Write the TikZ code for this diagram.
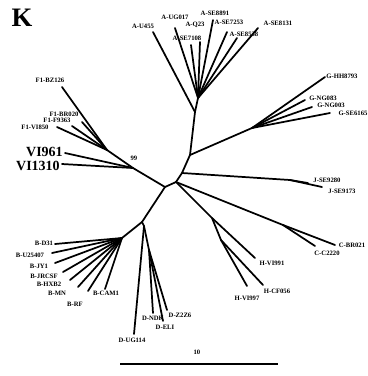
\documentclass[tikz,border=0pt]{standalone}
\usepackage{fontspec}
\setmainfont{Liberation Serif}
\begin{document}
\begin{tikzpicture}[x=0.75pt,y=-0.75pt,
  branch/.style={line width=1.3pt, line cap=round, line join=round},
  lbl/.style={font=\fontsize{5}{5}\selectfont\bfseries, inner sep=0pt},
  biglbl/.style={font=\fontsize{10.5}{10.5}\selectfont\bfseries, inner sep=0pt}]
\useasboundingbox (0,0) rectangle (368,376);

% panel letter
\node[font=\fontsize{20}{20}\selectfont\bfseries, inner sep=0pt] (K) at (22,18) {K};

% internal nodes of the tree
\coordinate (n1) at (165,187);
\coordinate (n2) at (176,182);
\coordinate (n3) at (182,173);
\coordinate (n4) at (190,155);
\coordinate (nVI) at (133,168);
\coordinate (nF) at (107,150);
\coordinate (nA1) at (195,112);
\coordinate (nA2) at (198,98);
\coordinate (nG) at (252,128);
\coordinate (nJ) at (290,180);
\coordinate (nC) at (283,225);
\coordinate (nH1) at (212,218);
\coordinate (nH2) at (221,240);
\coordinate (nBD) at (142,222);
\coordinate (nB) at (122,238);
\coordinate (nD1) at (144,226);
\coordinate (nD2) at (149,250);

% backbone
\draw[branch] (nF) -- (nVI) -- (n1) -- (n2) -- (n3) -- (n4) -- (nA1) -- (nA2);
\draw[branch] (n4) -- (nG);
\draw[branch] (n3) -- (nJ);
\draw[branch] (n2) -- (nC);
\draw[branch] (n2) -- (nH1) -- (nH2);
\draw[branch] (n1) -- (nBD) -- (nB);
\draw[branch] (nBD) -- (nD1) -- (nD2);

% subtype A
\coordinate (tA1) at (153,32);
\coordinate (tA2) at (175,28);
\coordinate (tA3) at (200,42);
\coordinate (tA4) at (191,45);
\coordinate (tA5) at (213,20);
\coordinate (tA6) at (227,32);
\coordinate (tA7) at (237,38);
\coordinate (tA8) at (258,28);
\draw[branch] (nA1) -- (tA1);
\foreach \t in {tA2,tA3,tA4,tA5,tA6,tA7,tA8} \draw[branch] (nA2) -- (\t);
\node[lbl] (lA1) at (143,26) {A-U455};
\node[lbl] (lA2) at (175,17) {A-UG017};
\node[lbl] (lA3) at (195,25) {A-Q23};
\node[lbl] (lA4) at (187,38) {A-SE7108};
\node[lbl] (lA5) at (215,13) {A-SE8891};
\node[lbl] (lA6) at (229,22) {A-SE7253};
\node[lbl] (lA7) at (244,34) {A-SE8538};
\node[lbl] (lA8) at (278,23) {A-SE8131};

% subtype G
\coordinate (tG1) at (325,77);
\coordinate (tG2) at (305,100);
\coordinate (tG3) at (312,107);
\coordinate (tG4) at (330,113);
\foreach \t in {tG1,tG2,tG3,tG4} \draw[branch] (nG) -- (\t);
\node[lbl] (lG1) at (342,76) {G-HH8793};
\node[lbl] (lG2) at (323,98) {G-NG083};
\node[lbl] (lG3) at (331,105) {G-NG003};
\node[lbl] (lG4) at (353,113) {G-SE6165};

% subtype J
\coordinate (tJ1) at (308,183);
\coordinate (tJ2) at (322,187);
\draw[branch] (nJ) -- (tJ1);
\draw[branch] (nJ) -- (tJ2);
\node[lbl] (lJ1) at (327,180) {J-SE9280};
\node[lbl] (lJ2) at (342,191) {J-SE9173};

% subtype C
\coordinate (tC1) at (335,245);
\coordinate (tC2) at (315,246);
\draw[branch] (nC) -- (tC1);
\draw[branch] (nC) -- (tC2);
\node[lbl] (lC1) at (352,245) {C-BR021};
\node[lbl] (lC2) at (327,253) {C-C2220};

% subtype H
\coordinate (tH1) at (255,258);
\coordinate (tH2) at (263,285);
\coordinate (tH3) at (247,286);
\draw[branch] (nH1) -- (tH1);
\draw[branch] (nH2) -- (tH2);
\draw[branch] (nH2) -- (tH3);
\node[lbl] (lH1) at (272,263) {H-VI991};
\node[lbl] (lH2) at (277,291) {H-CF056};
\node[lbl] (lH3) at (247,298) {H-VI997};

% subtype D
\coordinate (tD1) at (134,334);
\coordinate (tD2) at (153,313);
\coordinate (tD3) at (163,321);
\coordinate (tD4) at (167,310);
\draw[branch] (nD1) -- (tD1);
\foreach \t in {tD2,tD3,tD4} \draw[branch] (nD2) -- (\t);
\node[lbl] (lD1) at (132,340) {D-UG114};
\node[lbl] (lD2) at (153,318) {D-NDK};
\node[lbl] (lD3) at (165,327) {D-ELI};
\node[lbl] (lD4) at (180,315) {D-Z2Z6};

% subtype B
\coordinate (tB1) at (55,244);
\coordinate (tB2) at (52,253);
\coordinate (tB3) at (55,263);
\coordinate (tB4) at (63,272);
\coordinate (tB5) at (70,280);
\coordinate (tB6) at (78,287);
\coordinate (tB7) at (88,291);
\coordinate (tB8) at (105,289);
\foreach \t in {tB1,tB2,tB3,tB4,tB5,tB6,tB7,tB8} \draw[branch] (nB) -- (\t);
\node[lbl] (lB1) at (44,243) {B-D31};
\node[lbl] (lB2) at (30,255) {B-U25407};
\node[lbl] (lB3) at (39,266) {B-JY1};
\node[lbl] (lB4) at (44,276) {B-JRCSF};
\node[lbl] (lB5) at (49,284) {B-HXB2};
\node[lbl] (lB6) at (57,293) {B-MN};
\node[lbl] (lB7) at (75,304) {B-RF};
\node[lbl] (lB8) at (106,293) {B-CAM1};

% subtype F1
\coordinate (tF1) at (62,87);
\coordinate (tF2) at (82,122);
\coordinate (tF3) at (72,126);
\coordinate (tF4) at (57,127);
\foreach \t in {tF1,tF2,tF3,tF4} \draw[branch] (nF) -- (\t);
\node[lbl] (lF1) at (50,80) {F1-BZ126};
\node[lbl] (lF2) at (64,114) {F1-BR020};
\node[lbl] (lF3) at (57,120) {F1-F9363};
\node[lbl] (lF4) at (35,127) {F1-VI850};

% the two new isolates
\coordinate (tV1) at (65,153);
\coordinate (tV2) at (62,164);
\draw[branch] (nVI) -- (tV1);
\draw[branch] (nVI) -- (tV2);
\node[biglbl, anchor=east] (lV1) at (63,152) {VI961};
\node[biglbl, anchor=east] (lV2) at (60,166) {VI1310};
\node[lbl] (boot) at (134,158) {99};

% scale bar
\coordinate (s1) at (120,364);
\coordinate (s2) at (278,364);
\draw[line width=0.8pt] (s1) -- (s2);
\node[lbl] (sl) at (197,352) {10};
\end{tikzpicture}
\end{document}
